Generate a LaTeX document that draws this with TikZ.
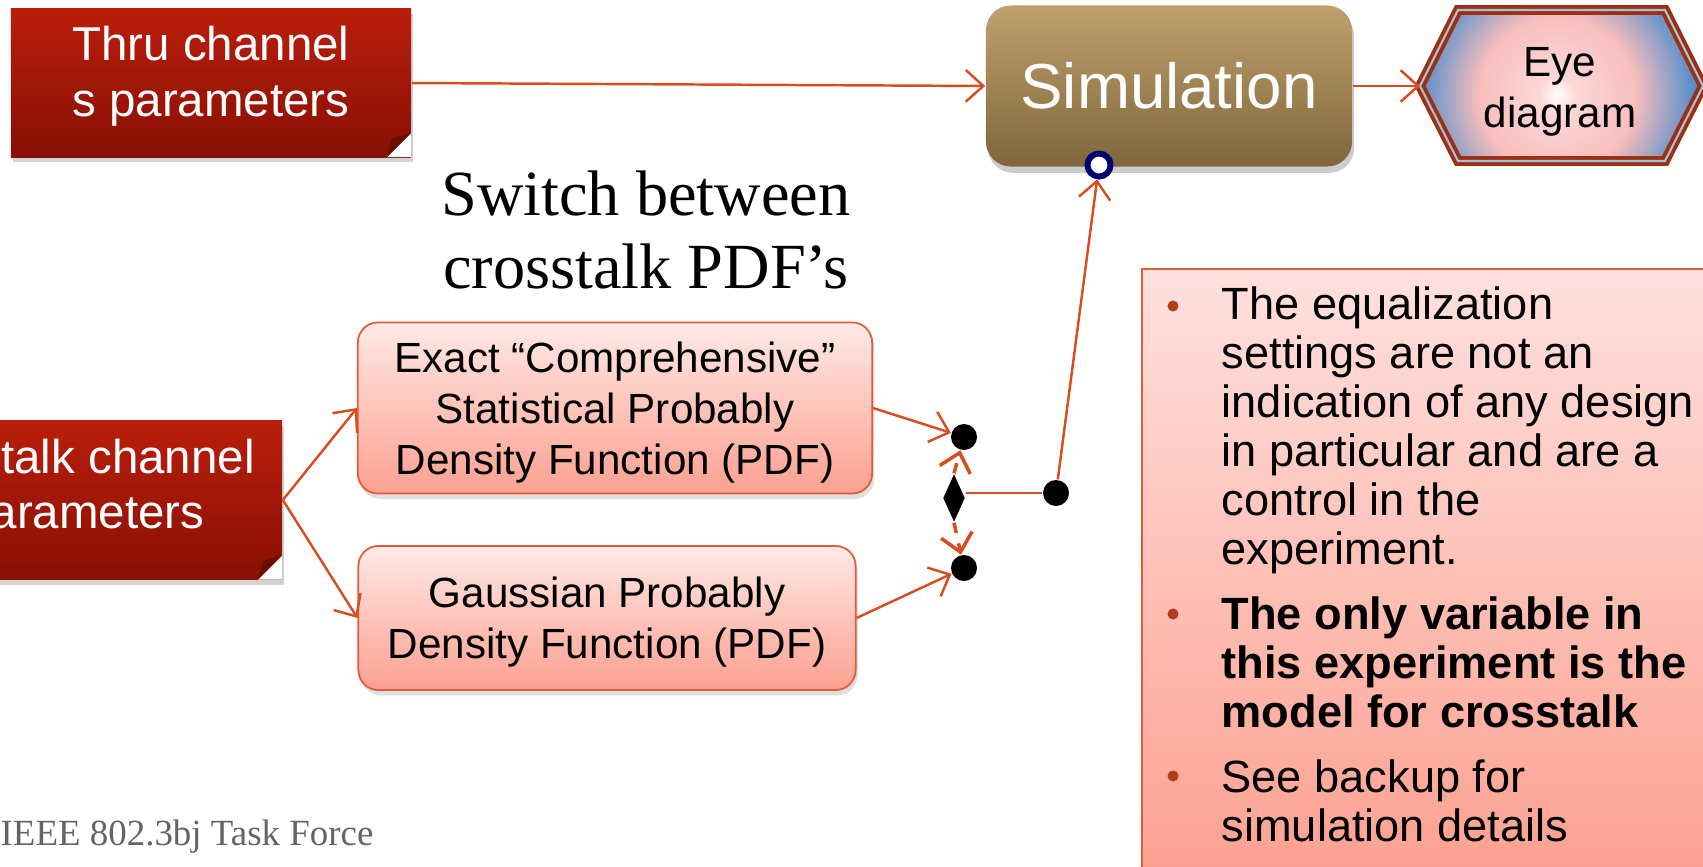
\documentclass[tikz,border=0pt]{standalone}
\usepackage{fontspec}
\setmainfont{Liberation Sans}
\newfontfamily\serifface{Liberation Serif}
\usetikzlibrary{arrows.meta, shapes.geometric, shadows}

\definecolor{thrutop}{RGB}{186,30,12}
\definecolor{thrubot}{RGB}{136,16,4}
\definecolor{folddark}{RGB}{105,14,4}
\definecolor{simtop}{RGB}{192,161,108}
\definecolor{simbot}{RGB}{126,102,60}
\definecolor{pdftop}{RGB}{255,233,229}
\definecolor{pdfbot}{RGB}{252,160,144}
\definecolor{pdfedge}{RGB}{222,92,58}
\definecolor{linkc}{RGB}{214,78,32}
\definecolor{eyeedge}{RGB}{158,48,16}
\definecolor{eyeblue}{RGB}{82,142,204}
\definecolor{eyepink}{RGB}{248,190,188}
\definecolor{ringc}{RGB}{0,0,112}
\definecolor{footc}{RGB}{100,100,100}
\definecolor{bulletc}{RGB}{176,60,24}

% path bbox maps to +-25bp
\pgfdeclareradialshading{eyeglow}{\pgfpoint{0bp}{0bp}}{%
  color(0bp)=(white); color(3bp)=(eyepink!60!white); color(13bp)=(eyepink);
  color(23bp)=(eyeblue); color(50bp)=(eyeblue)}

\begin{document}
\begin{tikzpicture}[x=0.01cm, y=-0.01cm]

    % Frame
    \useasboundingbox (0,0) rectangle (1703,866);
    \clip (0,0) rectangle (1703,866);

    \tikzset{
      link/.style={-{Straight Barb[length=5pt,width=9pt]}, draw=linkc, line width=0.7pt},
      swlink/.style={link, dashed, line width=1pt},
      redbox/.style={rectangle, top color=thrutop, bottom color=thrubot, text=white,
        align=center, inner sep=0pt, text depth=0.23cm, font=\fontsize{13.5}{15.8}\selectfont,
        drop shadow={opacity=0.35, shadow xshift=0.6pt, shadow yshift=-1.5pt},
        path picture={
          \fill[white] ([xshift=-0.24cm]path picture bounding box.south east)
            -- (path picture bounding box.south east)
            -- ([yshift=0.24cm]path picture bounding box.south east) -- cycle;
          \fill[folddark] ([xshift=-0.24cm]path picture bounding box.south east)
            -- ([yshift=0.24cm]path picture bounding box.south east)
            -- ([xshift=-0.19cm, yshift=0.19cm]path picture bounding box.south east) -- cycle;
        }},
      simbox/.style={rectangle, rounded corners=0.25cm, top color=simtop, bottom color=simbot,
        text=white, font=\fontsize{18.1}{20}\selectfont, minimum width=3.66cm, minimum height=1.61cm,
        drop shadow={opacity=0.4, shadow xshift=0.6pt, shadow yshift=-1.8pt}},
      pdfbox/.style={rectangle, rounded corners=0.2cm, top color=pdftop, bottom color=pdfbot,
        draw=pdfedge, line width=0.5pt, align=center, text depth=-0.03cm,
        font=\fontsize{12}{14.5}\selectfont,
        drop shadow={opacity=0.25, shadow xshift=0.6pt, shadow yshift=-1.5pt}},
      dot/.style={circle, fill=black, inner sep=0pt, minimum size=0.26cm},
      item/.style={align=left, inner sep=0pt, anchor=base west, font=\fontsize{12.85}{13.9}\selectfont},
    }

    % Inputs
    \node[redbox, minimum width=4cm, minimum height=1.48cm] (thru) at (211,83)
        {Thru channel\\s parameters};
    \node[redbox, text depth=0.32cm, minimum width=4.32cm, minimum height=1.59cm] (xtalk) at (66,500)
        {Crosstalk channel\\s parameters};

    % Crosstalk models
    \node[pdfbox, minimum width=5.14cm, minimum height=1.71cm] (exact) at (615,408)
        {Exact “Comprehensive”\\Statistical Probably\\Density Function (PDF)};
    \node[pdfbox, minimum width=4.97cm, minimum height=1.44cm] (gauss) at (607,618)
        {Gaussian Probably\\Density Function (PDF)};
    \node[font=\serifface\fontsize{18.3}{20.7}\selectfont, align=center] (switch) at (646,230)
        {Switch between\\crosstalk PDF’s};

    % Simulation + eye
    \node[simbox] (sim) at (1169,86) {Simulation};
    \coordinate (eyetip) at (1420,86);
    \begin{scope}
      \clip (eyetip) -- (1458,10) -- (1665,10) -- (1703,86) -- (1665,161) -- (1458,161) -- cycle;
      \fill[eyeblue] (1400,0) rectangle (1703,175);
      \shade[shading=eyeglow] (1557,95) circle (1.5cm);
    \end{scope}
    \draw[eyeedge, line width=2.8pt, line join=miter] (eyetip) -- (1458,10) -- (1665,10)
        -- (1703,86) -- (1665,161) -- (1458,161) -- cycle;
    \draw[eyeblue!55!white, line width=0.6pt] (eyetip) -- (1458,10) -- (1665,10)
        -- (1703,86) -- (1665,161) -- (1458,161) -- cycle;
    \node[align=center, font=\fontsize{12}{14.5}\selectfont] (eye) at (1560,92) {Eye\\diagram};

    % Switch
    \node[dot] (dtop) at (964,437) {};
    \node[dot] (dbot) at (964,568) {};
    \node[dot] (dout) at (1056,493) {};
    \node[diamond, fill=black, inner sep=0pt, minimum width=0.22cm, minimum height=0.48cm] (sw) at (954,498) {};
    \node[circle, draw=ringc, line width=1.7pt, fill=white, inner sep=0pt, minimum size=0.23cm] (ring) at (1099,165) {};

    % Connectors
    \draw[link] (thru.east) -- (sim.west);
    \draw[link] (sim.east) -- (eyetip);
    \draw[link] (xtalk.east) -- (exact.west);
    \draw[link] (xtalk.east) -- (gauss.west);
    \draw[link] (exact.east) -- (dtop);
    \draw[link] (gauss.east) -- (dbot);
    \draw[swlink] (sw.north) -- (dtop);
    \draw[swlink] (sw.south) -- (dbot);
    \draw[linkc, line width=0.5pt] (sw.east |- dout) -- (dout);
    \draw[link] (dout) -- (ring);

    % Notes
    \node[rectangle, top color=pdftop!80!pink, bottom color=pdfbot, draw=pdfedge, line width=0.5pt,
        minimum width=5.7cm, minimum height=6.1cm] (note) at (1427,574) {};
    \fill[bulletc] (1173,306) circle (0.055cm);
    \fill[bulletc] (1173,614) circle (0.055cm);
    \fill[bulletc] (1173,776) circle (0.055cm);
    \node[item] (item1) at (1221,564)
        {The equalization\\settings are not an\\indication of any design\\in particular and are a\\control in the\\experiment.};
    \node[item, font=\fontsize{12.85}{13.9}\selectfont\bfseries] (item2) at (1221,727)
        {The only variable in\\this experiment is the\\model for crosstalk};
    \node[item] (item3) at (1221,841)
        {See backup for\\simulation details};

    % Footer
    \node[anchor=base west, inner sep=0pt, text=footc, font=\serifface\fontsize{10.5}{12}\selectfont] (foot) at (0,845)
        {IEEE 802.3bj Task Force};

\end{tikzpicture}
\end{document}
